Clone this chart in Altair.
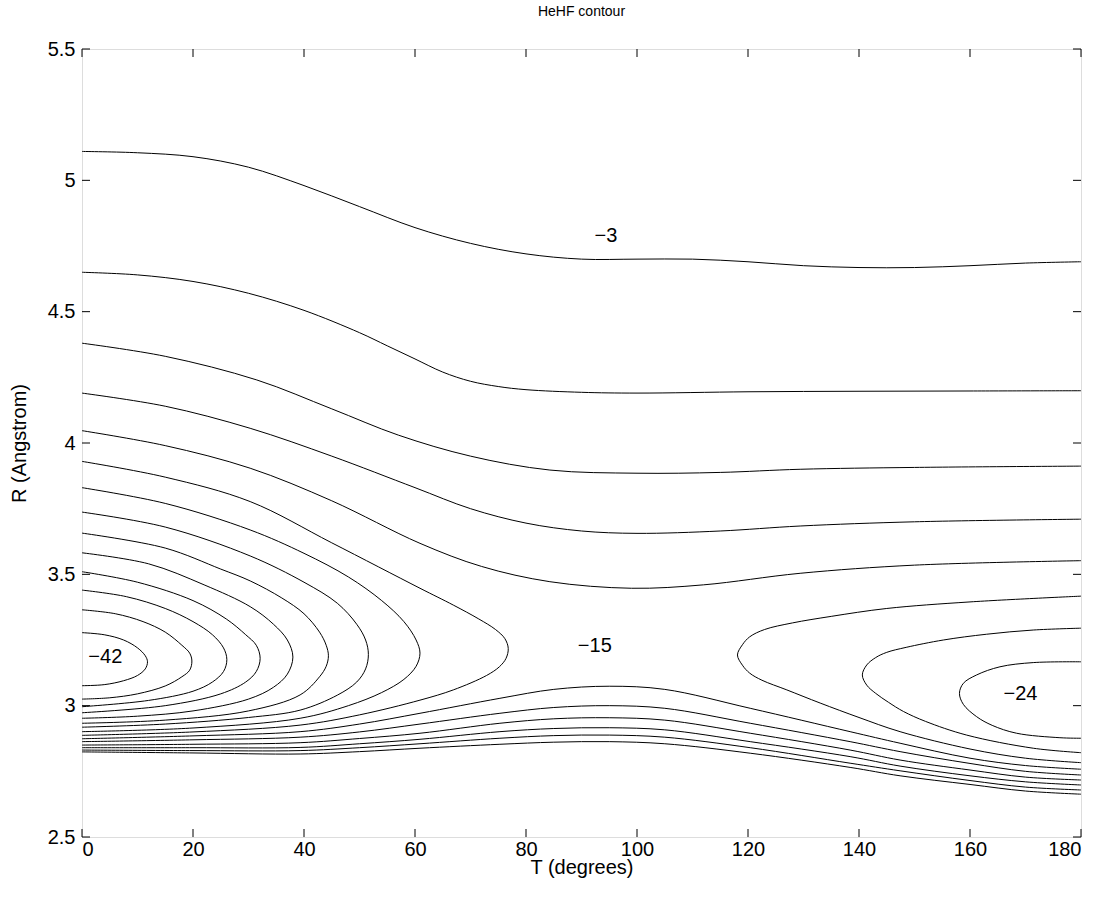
import altair as alt
import pandas as pd

FONT = "Liberation Sans"
W, H = 999, 788

X_TICKS = [0, 20, 40, 60, 80, 100, 120, 140, 160, 180]
Y_TICKS = [2.5, 3.0, 3.5, 4.0, 4.5, 5.0, 5.5]

# ---- upper open contours (left edge -> right edge) ----
UP_M3_T = [0, 10, 20, 30, 40, 50, 60, 70, 80, 90, 100, 110, 120, 130, 140, 150, 160, 170, 180]
UP_M3_R = [5.11, 5.105, 5.09, 5.05, 4.98, 4.90, 4.82, 4.76, 4.72, 4.70, 4.70, 4.70, 4.69, 4.675, 4.668, 4.668, 4.675, 4.685, 4.69]

UP_M6_T = [0, 10, 20, 30, 40, 50, 55, 60, 65, 70, 75, 80, 90, 100, 120, 140, 160, 180]
UP_M6_R = [4.65, 4.64, 4.615, 4.57, 4.505, 4.42, 4.37, 4.32, 4.27, 4.235, 4.215, 4.203, 4.193, 4.19, 4.195, 4.197, 4.198, 4.199]

UP_M9_T = [0, 15, 31.5, 45, 57, 70, 84.3, 100, 115, 129.4, 150, 180]
UP_M9_R = [4.38, 4.33, 4.24, 4.13, 4.03, 3.95, 3.897, 3.885, 3.888, 3.90, 3.907, 3.912]

UP_M12_T = [0, 15, 30.3, 45, 60, 70, 80, 90, 100, 115, 129.4, 150, 180]
UP_M12_R = [4.19, 4.14, 4.056, 3.95, 3.83, 3.75, 3.695, 3.665, 3.656, 3.665, 3.684, 3.70, 3.71]

UP_M15_T = [0, 15, 30.3, 45, 60.9, 72, 84.3, 99, 112, 129.4, 150, 180]
UP_M15_R = [4.047, 3.99, 3.904, 3.78, 3.618, 3.53, 3.472, 3.447, 3.46, 3.504, 3.535, 3.552]

# ---- lower open contours (wall side) ----
LO_T = [0, 20, 39.3, 50, 60.9, 75.3, 85, 95, 105, 120.4, 138.4, 147.4, 160, 170, 180]
LO_M15_R = [2.874, 2.885, 2.901, 2.93, 2.971, 3.028, 3.062, 3.074, 3.062, 2.99, 2.901, 2.857, 2.80, 2.772, 2.758]
LO_M12_R = [2.863, 2.870, 2.880, 2.90, 2.93, 2.971, 2.993, 3.0, 2.99, 2.933, 2.863, 2.825, 2.78, 2.75, 2.736]
LO_M9_R = [2.850, 2.853, 2.859, 2.875, 2.895, 2.933, 2.95, 2.954, 2.945, 2.895, 2.831, 2.793, 2.755, 2.728, 2.717]
LO_M6_R = [2.840, 2.840, 2.841, 2.855, 2.872, 2.901, 2.913, 2.916, 2.908, 2.863, 2.806, 2.770, 2.733, 2.71, 2.698]
LO_M3_R = [2.831, 2.829, 2.829, 2.84, 2.855, 2.876, 2.886, 2.888, 2.88, 2.840, 2.781, 2.752, 2.715, 2.69, 2.679]
LO_0_R = [2.824, 2.82, 2.816, 2.825, 2.838, 2.853, 2.861, 2.863, 2.855, 2.819, 2.765, 2.733, 2.70, 2.675, 2.663]

# ---- left well (T = 0 side) ----
L18_T = [0, 15, 30.3, 45, 60.9, 66.9, 71.5, 74.5, 76.2, 76.8, 76.4, 75.2, 72.9, 66.9, 60.9, 50, 39.3, 20, 0]
L18_R = [3.93, 3.87, 3.777, 3.62, 3.447, 3.383, 3.33, 3.29, 3.255, 3.218, 3.18, 3.148, 3.115, 3.06, 3.021, 2.965, 2.926, 2.90, 2.887]

L21_T = [0, 15, 30.3, 40, 48, 54, 58, 60.2, 60.9, 60.2, 58, 54, 48, 39.3, 20, 0]
L21_R = [3.83, 3.77, 3.669, 3.58, 3.49, 3.40, 3.32, 3.25, 3.20, 3.15, 3.10, 3.05, 3.00, 2.952, 2.915, 2.901]

L24_T = [0, 15, 30.3, 40, 46, 49.5, 51.1, 51.6, 51.1, 49.5, 46, 39.3, 30, 15, 0]
L24_R = [3.737, 3.68, 3.57, 3.47, 3.39, 3.31, 3.25, 3.195, 3.14, 3.09, 3.04, 2.983, 2.955, 2.93, 2.918]

L27_T = [0, 15, 25, 30.3, 36, 40, 42.8, 44.0, 44.4, 44.0, 42.8, 39.3, 30, 15, 0]
L27_R = [3.657, 3.60, 3.52, 3.475, 3.41, 3.35, 3.28, 3.23, 3.19, 3.15, 3.11, 3.041, 2.98, 2.945, 2.933]

L30_T = [0, 12, 22, 30.3, 34.5, 37, 38, 37, 34.5, 30, 20, 10, 0]
L30_R = [3.582, 3.54, 3.46, 3.377, 3.31, 3.25, 3.185, 3.12, 3.07, 3.025, 2.98, 2.96, 2.952]

L33_T = [0, 10, 20, 26, 29.5, 31.4, 32.1, 31.4, 29.5, 25, 15, 0]
L33_R = [3.51, 3.47, 3.40, 3.33, 3.27, 3.23, 3.18, 3.13, 3.09, 3.045, 3.0, 2.973]

L36_T = [0, 8, 15, 20, 23.5, 25.5, 26.1, 25.5, 23.5, 20, 12, 0]
L36_R = [3.44, 3.415, 3.37, 3.32, 3.27, 3.22, 3.175, 3.13, 3.09, 3.055, 3.02, 2.996]

L39_T = [0, 6, 11, 15, 18, 19.4, 19.8, 19.4, 18, 15, 10, 5, 0]
L39_R = [3.365, 3.35, 3.32, 3.28, 3.23, 3.20, 3.17, 3.135, 3.11, 3.075, 3.045, 3.03, 3.025]

L42_T = [0, 4, 7.5, 10, 11.4, 11.8, 11.4, 10, 7.5, 4, 0]
L42_R = [3.278, 3.27, 3.25, 3.22, 3.19, 3.167, 3.14, 3.115, 3.095, 3.08, 3.076]

# ---- right well (T = 180 side) ----
R18_T = [180, 160, 145, 135, 128, 123, 120.3, 119.0, 118.1, 119.0, 120.3, 122.5, 127, 133, 140, 147.4, 160, 170, 180]
R18_R = [3.417, 3.395, 3.37, 3.34, 3.315, 3.29, 3.262, 3.232, 3.193, 3.154, 3.124, 3.097, 3.06, 3.01, 2.955, 2.901, 2.835, 2.80, 2.783]

R21_T = [180, 171.4, 163, 155.2, 148.5, 145, 143, 141.4, 140.6, 141.4, 143, 145.3, 148, 152, 159.4, 171.4, 180]
R21_R = [3.295, 3.288, 3.272, 3.25, 3.222, 3.203, 3.183, 3.155, 3.117, 3.078, 3.047, 3.013, 2.978, 2.94, 2.888, 2.838, 2.821]

R24_T = [180, 171.4, 165.4, 161.2, 158.8, 158.1, 158.8, 161.2, 164, 168.4, 176.2, 180]
R24_R = [3.167, 3.164, 3.148, 3.117, 3.085, 3.047, 3.005, 2.958, 2.925, 2.895, 2.878, 2.876]

# ---- contour labels ----
LABEL_TEXT = ["\u22123", "\u221215", "\u221242", "\u221224"]
LABEL_T = [94.4, 92.4, 4.2, 169.1]
LABEL_R = [4.788, 3.227, 3.185, 3.043]

PATHS = [
    ("up-3", UP_M3_T, UP_M3_R), ("up-6", UP_M6_T, UP_M6_R), ("up-9", UP_M9_T, UP_M9_R),
    ("up-12", UP_M12_T, UP_M12_R), ("up-15", UP_M15_T, UP_M15_R),
    ("lo-15", LO_T, LO_M15_R), ("lo-12", LO_T, LO_M12_R), ("lo-9", LO_T, LO_M9_R),
    ("lo-6", LO_T, LO_M6_R), ("lo-3", LO_T, LO_M3_R), ("lo0", LO_T, LO_0_R),
    ("l-18", L18_T, L18_R), ("l-21", L21_T, L21_R), ("l-24", L24_T, L24_R),
    ("l-27", L27_T, L27_R), ("l-30", L30_T, L30_R), ("l-33", L33_T, L33_R),
    ("l-36", L36_T, L36_R), ("l-39", L39_T, L39_R), ("l-42", L42_T, L42_R),
    ("r-18", R18_T, R18_R), ("r-21", R21_T, R21_R), ("r-24", R24_T, R24_R),
]

rows = []
for name, ts, rs in PATHS:
    for i, (t, r) in enumerate(zip(ts, rs)):
        rows.append({"path": name, "i": i, "T": t, "R": r})
df = pd.DataFrame(rows)

FS = 20

xscale = alt.Scale(domain=[0, 180], nice=False, zero=False)
yscale = alt.Scale(domain=[2.5, 5.5], nice=False, zero=False)

xaxis = alt.Axis(values=X_TICKS, title="T (degrees)", ticks=False, domain=False, grid=False,
                 labelFontSize=FS, labelPadding=2, titleFontSize=FS, titleFontWeight="normal",
                 titlePadding=-2, labelColor="black", titleColor="black", labelFont=FONT, titleFont=FONT,
                 labelExpr="'' + datum.value")
yaxis = alt.Axis(values=Y_TICKS, title="R (Angstrom)", ticks=False, domain=False, grid=False,
                 labelFontSize=FS, labelPadding=7, titleFontSize=FS, titleFontWeight="normal",
                 titlePadding=18, labelColor="black", titleColor="black", labelFont=FONT, titleFont=FONT,
                 labelExpr="'' + datum.value")

lines = alt.Chart(df).mark_line(color="black", strokeWidth=1, interpolate="catmull-rom", clip=True).encode(
    x=alt.X("T:Q", scale=xscale, axis=xaxis),
    y=alt.Y("R:Q", scale=yscale, axis=yaxis),
    detail="path:N",
    order="i:Q",
)

xt_df = pd.DataFrame({"T": X_TICKS})
yt_df = pd.DataFrame({"R": Y_TICKS})

xt_bottom = alt.Chart(xt_df).mark_rule(color="black", strokeWidth=1).encode(
    x=alt.X("T:Q", scale=xscale, axis=xaxis), y=alt.value(H), y2=alt.value(H - 8))
xt_top = alt.Chart(xt_df).mark_rule(color="black", strokeWidth=1).encode(
    x=alt.X("T:Q", scale=xscale, axis=xaxis), y=alt.value(0), y2=alt.value(8))
yt_left = alt.Chart(yt_df).mark_rule(color="black", strokeWidth=1).encode(
    y=alt.Y("R:Q", scale=yscale, axis=yaxis), x=alt.value(0), x2=alt.value(8))
yt_right = alt.Chart(yt_df).mark_rule(color="black", strokeWidth=1).encode(
    y=alt.Y("R:Q", scale=yscale, axis=yaxis), x=alt.value(W), x2=alt.value(W - 8))

lab_df = pd.DataFrame({"T": LABEL_T, "R": LABEL_R, "text": LABEL_TEXT})
labels = alt.Chart(lab_df).mark_text(fontSize=FS, font=FONT, color="black").encode(
    x=alt.X("T:Q", scale=xscale, axis=xaxis),
    y=alt.Y("R:Q", scale=yscale, axis=yaxis),
    text="text:N",
)

chart = alt.layer(lines, xt_bottom, xt_top, yt_left, yt_right, labels).properties(
    width=W, height=H,
    title=alt.TitleParams("HeHF contour", fontSize=14, fontWeight="normal", font=FONT,
                          anchor="middle", offset=20, color="black"),
    autosize=alt.AutoSizeParams(type="none"),
    padding={"left": 82, "top": 49, "right": 25, "bottom": 63},
).configure_view(stroke="black", strokeWidth=1).configure(background="white")

chart.save("out.html", embed_options={"renderer": "svg", "actions": False})
